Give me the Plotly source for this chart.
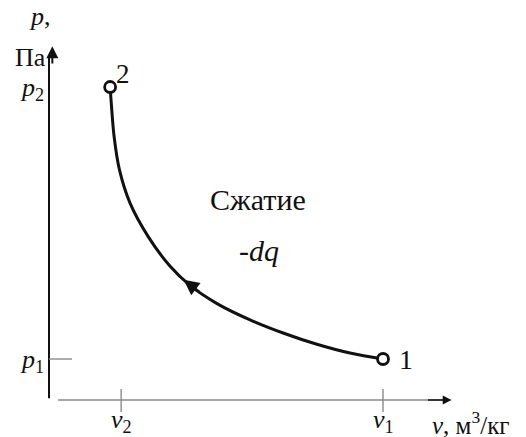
import plotly.graph_objects as go

# Compression process p-v diagram (schematic units)
v_curve = [1.83, 1.865, 1.95, 2.11, 2.43, 2.97, 3.62, 4.22, 5.03, 6.02, 7.01, 8.02, 9.01, 10.0]
p_curve = [10.0, 9.48, 8.41, 7.35, 6.28, 5.22, 4.28, 3.66, 3.08, 2.56, 2.14, 1.78, 1.50, 1.31]

state_labels = ["2", "1"]
v_ticks = [2.16, 10.0]
v_tick_labels = ["<i>v</i><sub>2</sub>", "<i>v</i><sub>1</sub>"]
p_ticks = [1.31, 10.0]
p_tick_labels = ["<i>p</i><sub>1</sub>", "<i>p</i><sub>2</sub>"]

SERIF = "Liberation Serif"
INK = "#111111"
GRAY = "#8a8a8a"

fig = go.Figure()

# process curve
fig.add_trace(go.Scatter(
    x=v_curve, y=p_curve, mode="lines",
    line=dict(color=INK, width=3, shape="spline", smoothing=1.0),
    hoverinfo="skip", showlegend=False,
))
# end states
fig.add_trace(go.Scatter(
    x=[v_curve[0], v_curve[-1]], y=[p_curve[0], p_curve[-1]], mode="markers",
    marker=dict(symbol="circle", size=11, color="white", line=dict(color=INK, width=2.8)),
    hoverinfo="skip", showlegend=False,
))

shapes = []
# p axis
shapes.append(dict(type="line", x0=0, x1=0, y0=0.06, y1=11.0, line=dict(color=INK, width=2)))
# v axis
shapes.append(dict(type="line", x0=0.27, x1=11.9, y0=0, y1=0, line=dict(color=GRAY, width=1.6)))
# p1 tick
shapes.append(dict(type="line", x0=0, x1=0.69, y0=p_ticks[0], y1=p_ticks[0], line=dict(color=GRAY, width=1.4)))
# v ticks
for vt in v_ticks:
    shapes.append(dict(type="line", x0=vt, x1=vt, y0=0.35, y1=-0.38, line=dict(color=GRAY, width=1.4)))

annotations = []
# axis arrow heads
annotations.append(dict(x=0.1, y=11.3, ax=0.1, ay=10.7, xref="x", yref="y", axref="x", ayref="y",
                        showarrow=True, arrowhead=2, arrowsize=1.2, arrowwidth=2, arrowcolor=INK, text=""))
annotations.append(dict(x=12.05, y=0, ax=11.3, ay=0, xref="x", yref="y", axref="x", ayref="y",
                        showarrow=True, arrowhead=2, arrowsize=1.1, arrowwidth=1.6, arrowcolor=INK, text=""))
# direction arrow on the curve
annotations.append(dict(x=4.03, y=3.84, ax=4.55, ay=3.42, xref="x", yref="y", axref="x", ayref="y",
                        showarrow=True, arrowhead=2, arrowsize=1.4, arrowwidth=2.2, arrowcolor=INK, text=""))

def label(x, y, text, size=24, xanchor="center"):
    annotations.append(dict(x=x, y=y, xref="x", yref="y", text=text, showarrow=False,
                            xanchor=xanchor, yanchor="middle",
                            font=dict(family=SERIF, size=size, color=INK)))

label(-0.27, 12.25, "<i>p</i>,", 26)
label(-0.55, 10.93, "Па", 26)
for pt, txt in zip(p_ticks, p_tick_labels):
    label(-0.5, pt - 0.05, txt, 26)
for vt, txt in zip(v_ticks, v_tick_labels):
    label(vt, -0.66, txt, 26)
label(11.4, -0.72, "<i>v</i>, м<sup>3</sup>/кг", 25, xanchor="left")
label(v_curve[0] + 0.4, p_curve[0] + 0.4, state_labels[0], 27, xanchor="center")
label(v_curve[-1] + 0.68, p_curve[-1], state_labels[1], 28, xanchor="center")
label(6.25, 6.4, "Сжатие", 30)
label(6.3, 4.78, "<i>-dq</i>", 30)

fig.update_layout(
    width=526, height=437,
    margin=dict(l=0, r=0, t=0, b=0),
    paper_bgcolor="white", plot_bgcolor="white",
    font=dict(family=SERIF),
    xaxis=dict(range=[-1.467, 14.281], visible=False, fixedrange=True),
    yaxis=dict(range=[-1.182, 12.78], visible=False, fixedrange=True),
    shapes=shapes, annotations=annotations,
    showlegend=False,
)

fig.write_html("out.html")
